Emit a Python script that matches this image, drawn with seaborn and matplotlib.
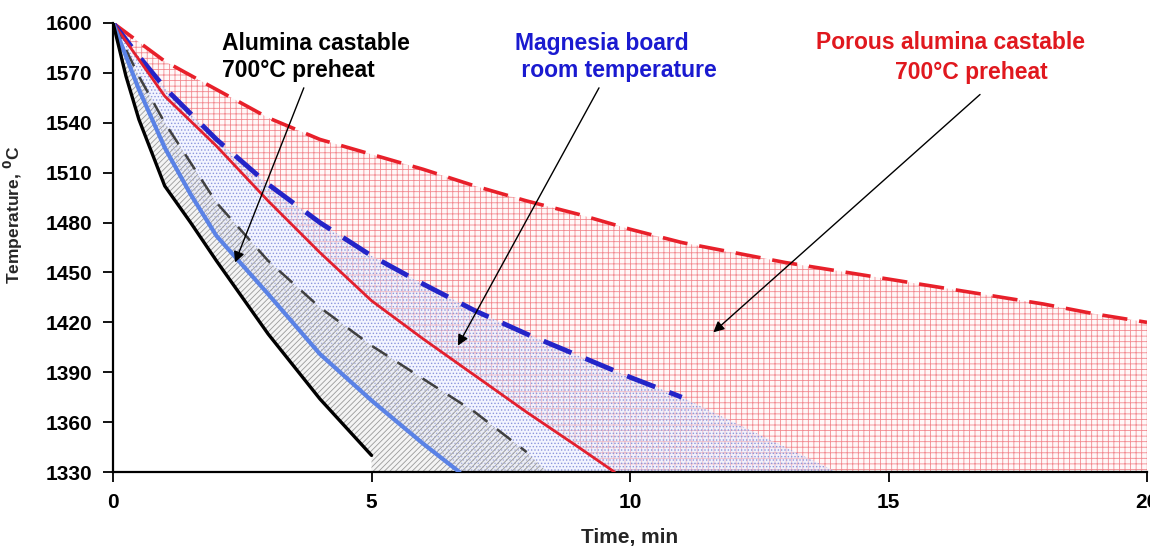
import matplotlib
matplotlib.use("Agg")
import matplotlib.pyplot as plt
import seaborn as sns
import numpy as np

# cooling curves: time in min, temperature in C
alumina_t = [0, 0.25, 0.5, 1, 1.5, 2, 3, 4, 5]
alumina_T = [1600, 1568, 1542, 1502, 1480, 1457, 1413, 1374, 1340]

alumina_dash_t = [0, 0.5, 1, 2, 3, 4, 5, 6, 7, 8]
alumina_dash_T = [1600, 1568, 1540, 1492, 1457, 1429, 1406, 1386, 1366, 1342]

magnesia_t = [0, 0.5, 1, 1.5, 2, 3, 4, 5, 6, 6.7]
magnesia_T = [1600, 1560, 1525, 1497, 1472, 1437, 1401, 1373, 1347, 1330]

magnesia_dash_t = [0, 0.5, 1, 2, 3, 4, 5, 6, 7, 8, 9, 10, 11]
magnesia_dash_T = [1600, 1580, 1561, 1530, 1503, 1480, 1460, 1443, 1427, 1413, 1400, 1387, 1375]

porous_t = [0, 0.5, 1, 2, 3, 4, 5, 6, 7, 8, 9, 9.7]
porous_T = [1600, 1578, 1556, 1526, 1493, 1462, 1433, 1410, 1388, 1366, 1345, 1330]

porous_dash_t = list(range(0, 21))
porous_dash_T = [1600, 1577, 1560, 1543, 1530, 1521, 1512, 1502, 1493, 1485, 1476,
                 1468, 1462, 1456, 1451, 1446, 1441, 1436, 1431, 1425, 1420]

# where the shaded bands run into the bottom of the chart
floor_T = 1330
alumina_band_end = 8.4
magnesia_band_end = 14.0
porous_band_end = 20

x_ticks = [0, 5, 10, 15, 20]
y_ticks = list(range(1330, 1601, 30))

sns.set_style("ticks")
plt.rcParams['font.family'] = ['Liberation Sans', 'DejaVu Sans']
plt.rcParams['hatch.linewidth'] = 0.6

fig, ax = plt.subplots(figsize=(11.5, 5.55), dpi=100)
fig.subplots_adjust(left=0.0983, right=0.9974, bottom=0.1495, top=0.9586)


def band(upper_t, upper_T, lower_t, lower_T, end_t):
    # polygon between two curves, closed along the bottom of the chart
    xs = list(upper_t) + [end_t, lower_t[-1]] + list(lower_t[::-1])
    ys = list(upper_T) + [floor_T, floor_T] + list(lower_T[::-1])
    return xs, ys


# shaded ranges
xs, ys = band(porous_dash_t, porous_dash_T, porous_t, porous_T, porous_band_end)
ax.fill(xs, ys, facecolor=(1, 0.93, 0.93, 0.35), edgecolor='#f28a90',
        hatch='+++', linewidth=0, zorder=1)
xs, ys = band(magnesia_dash_t, magnesia_dash_T, magnesia_t, magnesia_T, magnesia_band_end)
ax.fill(xs, ys, facecolor=(0.9, 0.92, 1.0, 0.5), edgecolor='#8c96dc',
        hatch='.....', linewidth=0, zorder=1.1)
xs, ys = band(alumina_dash_t, alumina_dash_T, alumina_t, alumina_T, alumina_band_end)
ax.fill(xs, ys, facecolor=(0.88, 0.88, 0.88, 0.35), edgecolor='#9a9a9a',
        hatch='//////', linewidth=0, zorder=1.2)

# curves
sns.lineplot(x=porous_dash_t, y=porous_dash_T, ax=ax, color='#e8202a', lw=2.6,
             linestyle=(0, (7, 3.3)), sort=False, zorder=3)
sns.lineplot(x=magnesia_dash_t, y=magnesia_dash_T, ax=ax, color='#2424c8', lw=3.5,
             linestyle=(0, (6.2, 3.1)), sort=False, zorder=3)
sns.lineplot(x=porous_t, y=porous_T, ax=ax, color='#e3202e', lw=2.0, sort=False, zorder=3)
sns.lineplot(x=alumina_dash_t, y=alumina_dash_T, ax=ax, color='#404040', lw=1.8,
             linestyle=(0, (7.2, 4.8)), sort=False, zorder=3)
sns.lineplot(x=magnesia_t, y=magnesia_T, ax=ax, color='#5a82e6', lw=3.0, sort=False, zorder=3)
sns.lineplot(x=alumina_t, y=alumina_T, ax=ax, color='black', lw=2.4, sort=False, zorder=3)

# labels with arrows
arrow = dict(arrowstyle='-|>', color='black', lw=1.0, mutation_scale=16, shrinkA=0, shrinkB=0)
ax.annotate('', xy=(2.36, 1456), xytext=(3.69, 1561), arrowprops=arrow, zorder=4)
ax.annotate('', xy=(6.67, 1406), xytext=(9.40, 1561), arrowprops=arrow, zorder=4)
ax.annotate('', xy=(11.61, 1414), xytext=(16.77, 1557), arrowprops=arrow, zorder=4)

txt = dict(fontsize=16.5, fontweight='bold', va='center', linespacing=1.2, zorder=5)
ax.text(2.11, 1579.5, 'Alumina castable\n700°C preheat', ha='left', color='black', **txt)
ax.text(7.78, 1579.5, 'Magnesia board\n room temperature', ha='left', color='#1a1ad0', **txt)
ax.text(16.19, 1588, 'Porous alumina castable', ha='center', color='#e0181e', **txt)
ax.text(16.6, 1570.5, '700°C preheat', ha='center', color='#e0181e', **txt)

# axes
ax.set_xlim(0, 20)
ax.set_ylim(1330, 1600)
ax.set_xticks(x_ticks)
ax.set_yticks(y_ticks)
ax.tick_params(axis='both', direction='out', length=7, width=1.3, labelsize=15, pad=8, colors='black')
for lab in ax.get_xticklabels() + ax.get_yticklabels():
    lab.set_fontweight('bold')
for side in ['top', 'right']:
    ax.spines[side].set_visible(False)
for side in ['left', 'bottom']:
    ax.spines[side].set_linewidth(1.6)
    ax.spines[side].set_color('black')

ax.set_xlabel('Time, min', fontsize=15, fontweight='bold')
ax.set_ylabel('Temperature, $^{\\mathbf{0}}$C', fontsize=12.5, fontweight='bold')
ax.xaxis.set_label_coords(0.5, -0.125)
ax.yaxis.set_label_coords(-0.085, 0.572)

fig.savefig('out.png', dpi=100)
